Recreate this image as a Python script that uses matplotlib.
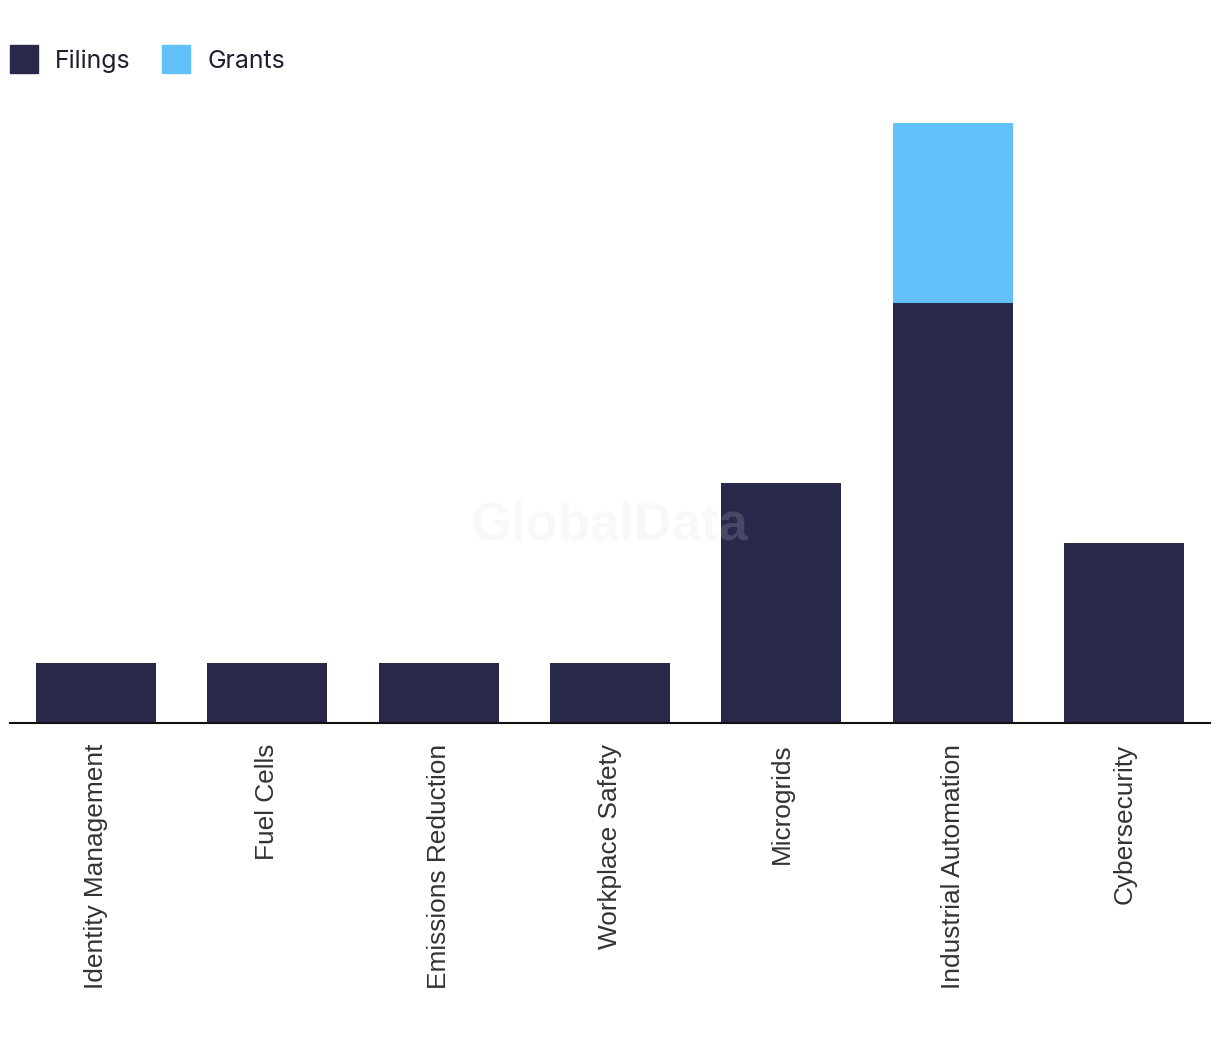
import numpy as np
import matplotlib.pyplot as plt
from matplotlib.lines import Line2D

# datos del grafico
categorias = ["Identity Management", "Fuel Cells", "Emissions Reduction",
              "Workplace Safety", "Microgrids", "Industrial Automation", "Cybersecurity"]
filings = [1, 1, 1, 1, 4, 7, 3]
grants = [0, 0, 0, 0, 0, 3, 0]

c_fil = "#27284a"
c_gra = "#62c1f8"

fig = plt.figure(figsize=(12.2, 10.42), dpi=100)
ax = fig.add_axes([10/1220, (1042-723)/1042, 1200/1220, 600/1042])

x = np.arange(len(categorias))
ax.bar(x, filings, width=0.7, color=c_fil)
ax.bar(x, grants, width=0.7, bottom=filings, color=c_gra)

ax.set_xlim(-0.5, len(categorias) - 0.5)
ax.set_ylim(0, 10)
ax.set_xticks(x)
ax.set_xticklabels(categorias, rotation=90, fontsize=18.9, color="#333333",
                   family="Liberation Sans")
ax.tick_params(axis="x", length=0, pad=15)
ax.set_yticks([])
for s in ["top", "right", "left"]:
    ax.spines[s].set_visible(False)
ax.spines["bottom"].set_color("#111111")
ax.spines["bottom"].set_linewidth(1.5)

# marca de agua
ax.text(0.5, 0.33, "GlobalData", transform=ax.transAxes, ha="center", va="center",
        fontsize=38, fontweight="bold", color="#dddddd", alpha=0.18,
        family="Liberation Sans", zorder=5)

handles = [Line2D([], [], marker="s", linestyle="none", markersize=20, color=c_fil),
           Line2D([], [], marker="s", linestyle="none", markersize=20, color=c_gra)]
fig.legend(handles, ["Filings", "Grants"], loc="center left",
           bbox_to_anchor=(10/1220, 1 - 61/1042), ncol=2, frameon=False,
           handletextpad=0.68, columnspacing=1.29, borderaxespad=0,
           borderpad=0, handlelength=1.12, prop={"family": "Inter", "size": 17.9})
for t in fig.legends[0].get_texts():
    t.set_color("#1e1e2e")

fig.savefig("out.png", dpi=100, facecolor="white")
